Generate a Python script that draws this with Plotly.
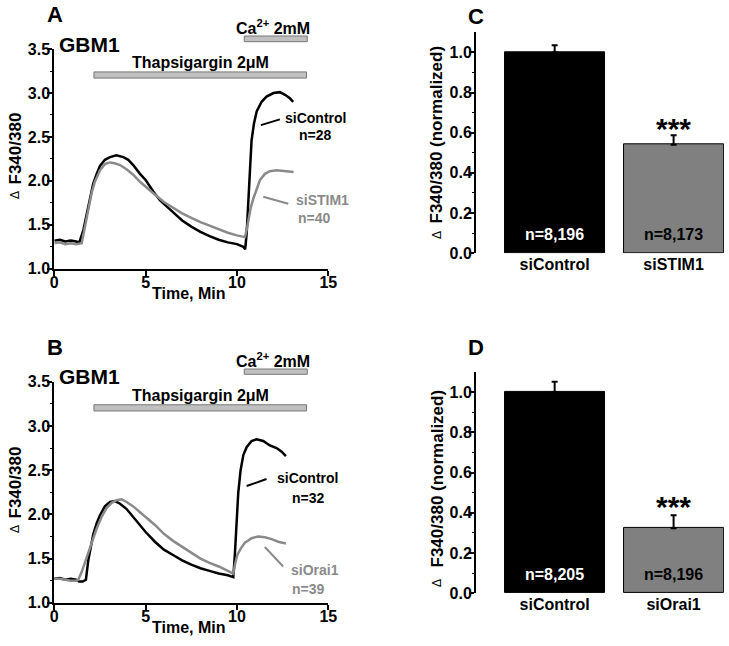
import plotly.graph_objects as go

# ---------------- data ----------------
# Panel A : GBM1, siControl vs siSTIM1 (time in min, delta F340/380)
a_t_ctrl = [0, 0.3, 0.6, 0.9, 1.2, 1.37, 1.59, 1.77, 1.95, 2.13, 2.32, 2.5, 2.77, 3.05, 3.4, 3.78, 4.05, 4.32,
            4.69, 5.0, 5.42, 5.78, 6.15, 6.5, 7.0, 7.5, 8.0, 8.5, 9.0, 9.5, 10.0, 10.35, 10.45, 10.53, 10.62,
            10.71, 10.8, 10.93, 11.08, 11.35, 11.62, 12.0, 12.35, 12.63, 12.9, 13.08]
a_v_ctrl = [1.32, 1.33, 1.31, 1.32, 1.31, 1.30, 1.44, 1.63, 1.82, 1.97, 2.08, 2.17, 2.24, 2.27, 2.29, 2.27, 2.24, 2.18,
            2.08, 2.01, 1.88, 1.78, 1.71, 1.64, 1.55, 1.48, 1.42, 1.37, 1.33, 1.30, 1.28, 1.25, 1.22, 1.40, 1.78,
            2.20, 2.46, 2.65, 2.79, 2.90, 2.96, 3.00, 3.01, 2.98, 2.94, 2.90]
a_t_stim = [0, 0.3, 0.6, 0.9, 1.2, 1.5, 1.68, 1.86, 2.04, 2.22, 2.5, 2.77, 3.05, 3.3, 3.6, 3.97, 4.32, 4.69, 5.0,
            5.42, 6.0, 6.5, 7.0, 7.5, 8.0, 8.5, 9.0, 9.5, 10.0, 10.44, 10.53, 10.62, 10.75, 10.9, 11.08, 11.26,
            11.53, 11.8, 12.17, 12.54, 13.0, 13.1]
a_v_stim = [1.29, 1.30, 1.28, 1.29, 1.28, 1.29, 1.48, 1.69, 1.86, 1.99, 2.12, 2.19, 2.21, 2.20, 2.18, 2.13, 2.07, 1.99, 1.93,
            1.86, 1.76, 1.69, 1.63, 1.58, 1.53, 1.49, 1.45, 1.41, 1.38, 1.36, 1.44, 1.55, 1.69, 1.80, 1.91, 2.01,
            2.08, 2.11, 2.12, 2.11, 2.10, 2.10]

# Panel B : GBM1, siControl vs siOrai1
b_t_ctrl = [0, 0.3, 0.6, 0.9, 1.2, 1.35, 1.55, 1.73, 1.86, 1.99, 2.13, 2.32, 2.5, 2.77, 3.05, 3.32, 3.6, 3.96, 4.32,
            4.69, 5.0, 5.51, 6.0, 6.5, 7.0, 7.5, 8.0, 8.5, 9.0, 9.5, 9.8, 9.89, 9.98, 10.07, 10.2, 10.35, 10.53,
            10.8, 11.08, 11.44, 11.8, 12.17, 12.45, 12.68]
b_v_ctrl = [1.27, 1.28, 1.26, 1.27, 1.26, 1.24, 1.24, 1.26, 1.48, 1.63, 1.77, 1.90, 1.99, 2.09, 2.14, 2.15, 2.12, 2.06, 1.97,
            1.88, 1.80, 1.69, 1.60, 1.54, 1.48, 1.43, 1.39, 1.36, 1.33, 1.31, 1.29, 1.56, 1.94, 2.24, 2.50, 2.67, 2.76,
            2.83, 2.85, 2.83, 2.78, 2.75, 2.71, 2.66]
b_t_orai = [0, 0.3, 0.6, 0.9, 1.2, 1.31, 1.5, 1.68, 1.86, 2.04, 2.32, 2.59, 2.86, 3.14, 3.41, 3.69, 3.96, 4.32, 4.69,
            5.0, 5.51, 6.0, 6.5, 7.0, 7.5, 8.0, 8.5, 9.0, 9.5, 9.8, 9.89, 10.02, 10.2, 10.44, 10.8, 11.17, 11.53,
            11.9, 12.26, 12.68]
b_v_orai = [1.27, 1.27, 1.26, 1.25, 1.25, 1.26, 1.35, 1.46, 1.58, 1.69, 1.84, 1.97, 2.07, 2.13, 2.16, 2.17, 2.14, 2.09, 2.03,
            1.97, 1.88, 1.78, 1.70, 1.63, 1.56, 1.50, 1.45, 1.41, 1.36, 1.33, 1.43, 1.54, 1.61, 1.68, 1.73, 1.75, 1.74,
            1.72, 1.69, 1.67]

# Panel C : normalized bars
c_cats = ["siControl", "siSTIM1"]
c_vals = [1.0, 0.54]
c_errs = [0.035, 0.047]
c_ns = ["n=8,196", "n=8,173"]

# Panel D : normalized bars
d_cats = ["siControl", "siOrai1"]
d_vals = [1.0, 0.323]
d_errs = [0.051, 0.065]
d_ns = ["n=8,205", "n=8,196"]

# ---------------- styling ----------------
FONT = "Liberation Sans, Arial, Helvetica, sans-serif"
BLACK = "#000000"
GREY = "#8a8a8a"
BARGREY = "#808080"

fig = go.Figure()

fig.add_trace(go.Scatter(x=a_t_ctrl, y=a_v_ctrl, mode="lines", line=dict(color=BLACK, width=2.5),
                         xaxis="x", yaxis="y", showlegend=False))
fig.add_trace(go.Scatter(x=a_t_stim, y=a_v_stim, mode="lines", line=dict(color=GREY, width=2.5),
                         xaxis="x", yaxis="y", showlegend=False))
fig.add_trace(go.Scatter(x=b_t_ctrl, y=b_v_ctrl, mode="lines", line=dict(color=BLACK, width=2.5),
                         xaxis="x2", yaxis="y2", showlegend=False))
fig.add_trace(go.Scatter(x=b_t_orai, y=b_v_orai, mode="lines", line=dict(color=GREY, width=2.5),
                         xaxis="x2", yaxis="y2", showlegend=False))

def add_bars(vals, errs, xa, ya):
    fig.add_trace(go.Bar(
        x=list(range(len(vals))), y=vals, width=0.84,
        marker=dict(color=[BLACK, BARGREY], line=dict(color=BLACK, width=1)),
        error_y=dict(type="data", array=errs, arrayminus=[0] * len(errs), symmetric=False,
                     color=BLACK, thickness=2, width=3),
        xaxis=xa, yaxis=ya, showlegend=False))

add_bars(c_vals, c_errs, "x3", "y3")
add_bars(d_vals, d_errs, "x4", "y4")

# ---------------- axes ----------------
dom_left = [0.0745, 0.4503]
dom_right = [0.653, 0.993]
tick_font = dict(family=FONT, size=16, color=BLACK, weight="bold")

def time_x(anchor):
    return dict(domain=dom_left, anchor=anchor, range=[0, 15], showline=True, linecolor=BLACK, linewidth=2,
                ticks="outside", ticklen=5, tickwidth=2, tickcolor=BLACK, tickvals=[0, 5, 10, 15],
                ticklabelstandoff=-7, automargin=False,
                showgrid=False, zeroline=False, tickfont=tick_font)

def time_y(anchor, dom):
    return dict(domain=dom, anchor=anchor, range=[1.0, 3.5], showline=True, linecolor=BLACK, linewidth=2,
                ticks="outside", ticklen=5, tickwidth=2, tickcolor=BLACK,
                tickvals=[1.0, 1.5, 2.0, 2.5, 3.0, 3.5], ticktext=["1.0", "1.5", "2.0", "2.5", "3.0", "3.5"],
                minor=dict(tickvals=[1.25, 1.75, 2.25, 2.75, 3.25], ticks="outside", ticklen=2, tickwidth=1,
                           tickcolor=BLACK),
                ticklabelstandoff=-6, automargin=False,
                showgrid=False, zeroline=False, tickfont=tick_font)

def bar_x(anchor, cats):
    return dict(domain=dom_right, anchor=anchor, range=[-0.661, 1.423], showline=False, ticks="",
                tickvals=[0, 1], ticktext=cats, automargin=False,
                showgrid=False, zeroline=False, tickfont=tick_font)

def bar_y(anchor, dom):
    return dict(domain=dom, anchor=anchor, range=[0, 1.1], showline=True, linecolor=BLACK, linewidth=2,
                ticks="outside", ticklen=5, tickwidth=2, tickcolor=BLACK,
                tickvals=[0, 0.2, 0.4, 0.6, 0.8, 1.0], ticktext=["0.0", "0.2", "0.4", "0.6", "0.8", "1.0"],
                minor=dict(tickvals=[0.1, 0.3, 0.5, 0.7, 0.9], ticks="outside", ticklen=2, tickwidth=1,
                           tickcolor=BLACK),
                ticklabelstandoff=-6, automargin=False,
                showgrid=False, zeroline=False, tickfont=tick_font)

fig.update_layout(
    width=729, height=646, margin=dict(l=0, r=0, t=0, b=0, pad=0, autoexpand=False),
    paper_bgcolor="white", plot_bgcolor="white",
    font=dict(family=FONT, size=15, color=BLACK, weight="bold"),
    xaxis=time_x("y"), yaxis=time_y("x", [0.584, 0.924]),
    xaxis2=time_x("y2"), yaxis2=time_y("x2", [0.067, 0.409]),
    xaxis3=bar_x("y3", c_cats), yaxis3=bar_y("x3", [0.608, 0.950]),
    xaxis4=bar_x("y4", d_cats), yaxis4=bar_y("x4", [0.0816, 0.4243]),
    bargap=0,
)

shapes = []
annots = []

def txt(text, x, y, xref, yref, size=15, color=BLACK, xanchor="center", yanchor="middle", angle=0,
        weight="bold"):
    annots.append(dict(text=text, x=x, y=y, xref=xref, yref=yref, showarrow=False, xanchor=xanchor,
                       yanchor=yanchor, textangle=angle,
                       font=dict(family=FONT, size=size, color=color, weight=weight)))

def ypx(px):
    return 1 - px / 646.0

def xpx(px):
    return px / 729.0

def time_panel_deco(letter, xr, yr, letter_px, gbm_px, ca_bar_px, ca_txt_px, title_px, delta_px, xtitle_px,
                    labels):
    txt(letter, xpx(55), ypx(letter_px), "paper", "paper", size=22)
    txt("GBM1", xpx(57), ypx(gbm_px), "paper", "paper", size=21, xanchor="left")
    shapes.append(dict(type="rect", xref=xr, yref=yr, x0=2.17, x1=13.81, y0=3.17, y1=3.24,
                       fillcolor="#c0c0c0", line=dict(color="#777777", width=1)))
    txt("Thapsigargin 2μM", 7.98, 3.35, xr, yr, size=16)
    shapes.append(dict(type="rect", xref=xr, yref="paper", x0=10.4, x1=13.85,
                       y0=ypx(ca_bar_px[1]), y1=ypx(ca_bar_px[0]),
                       fillcolor="#c0c0c0", line=dict(color="#777777", width=1)))
    txt("Ca<sup>2+</sup> 2mM", 11.98, ypx(ca_txt_px), xr, "paper", size=16)
    txt("F340/380", xpx(15), ypx(title_px), "paper", "paper", size=17, angle=-90)
    txt("Δ", xpx(15), ypx(delta_px), "paper", "paper", size=12, angle=-90, weight="normal")
    txt("Time, Min", 7.4, ypx(xtitle_px), xr, "paper", size=16)
    for (t, x, v, c) in labels["texts"]:
        txt(t, x, v, xr, yr, size=14, color=c, xanchor="center")
    for (x0, y0, x1, y1, c) in labels["lines"]:
        shapes.append(dict(type="line", xref=xr, yref=yr, x0=x0, y0=y0, x1=x1, y1=y1,
                           line=dict(color=c, width=2)))

time_panel_deco("A", "x", "y", 14, 44.5, (36, 41.7), 27, 148.5, 195, 293, dict(
    texts=[("siControl", 14.3, 2.72, BLACK), ("n=28", 14.3, 2.52, BLACK),
           ("siSTIM1", 14.7, 1.78, GREY), ("n=40", 14.25, 1.58, GREY)],
    lines=[(11.31, 2.635, 12.35, 2.70, BLACK), (11.44, 1.82, 12.81, 1.74, GREY)]))

time_panel_deco("B", "x2", "y2", 347.5, 376.7, (369, 374.3), 360, 482.5, 529, 627, dict(
    texts=[("siControl", 13.85, 2.41, BLACK), ("n=32", 13.9, 2.18, BLACK),
           ("siOrai1", 14.3, 1.37, GREY), ("n=39", 13.9, 1.15, GREY)],
    lines=[(10.53, 2.32, 11.62, 2.40, BLACK), (11.53, 1.63, 12.53, 1.41, GREY)]))

def bar_panel_deco(xr, yr, letter, letter_px, title_px, delta_px, ns, star_y):
    txt(letter, xpx(475.5), ypx(letter_px), "paper", "paper", size=22)
    txt("F340/380 (normalized)", xpx(436.5), ypx(title_px), "paper", "paper", size=17, angle=-90)
    txt("Δ", xpx(437), ypx(delta_px), "paper", "paper", size=12, angle=-90, weight="normal")
    txt(ns[0], 0, 0.093, xr, yr, size=16, color="white")
    txt(ns[1], 1, 0.093, xr, yr, size=16, color=BLACK)
    txt("***", 1, star_y, xr, yr, size=30)

bar_panel_deco("x3", "y3", "C", 16.5, 135, 235, c_ns, 0.62)
bar_panel_deco("x4", "y4", "D", 347.5, 479, 583, d_ns, 0.43)

fig.update_layout(shapes=shapes, annotations=annots)
fig.write_html("out.html", config={"displayModeBar": False},
               post_script="document.body.style.margin='0';document.body.style.overflow='hidden';")
